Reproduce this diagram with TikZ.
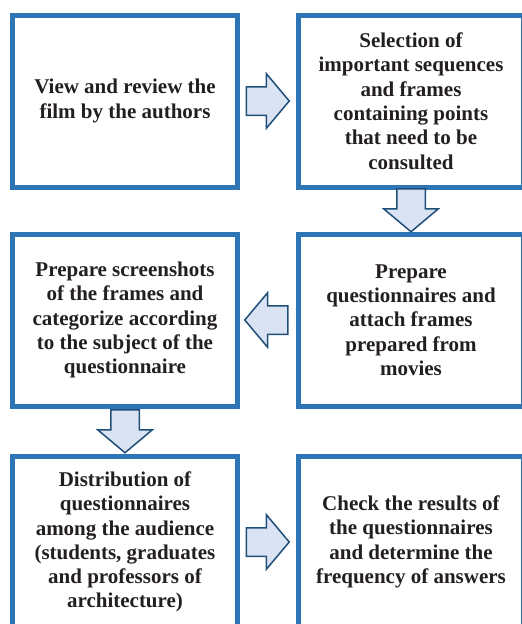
\documentclass[tikz,border=0pt]{standalone}
\usepackage{fontspec}
\setmainfont{Liberation Serif}
\usetikzlibrary{positioning,calc,shapes.arrows}
\definecolor{BoxClr}{RGB}{46,117,182}
\definecolor{ArrowFillClr}{RGB}{218,227,243}
\definecolor{ArrowLineClr}{RGB}{31,78,121}
\definecolor{TextClr}{RGB}{35,31,32}

\begin{document}
\begin{tikzpicture}[
  stepbox/.style={draw=BoxClr,line width=5pt,minimum width=225pt,minimum height=172pt,
    inner sep=0pt,outer sep=0pt,align=center,text=TextClr,
    font=\fontsize{21pt}{24.3pt}\selectfont\bfseries},
  blockarrow/.style={single arrow,draw=ArrowLineClr,fill=ArrowFillClr,line width=1.5pt,
    inner sep=0pt,text height=13.5pt,text depth=13.5pt,minimum height=43pt,
    single arrow head extend=13pt,single arrow tip angle=100,anchor=tail}]
\path[use as bounding box,clip] (0,0) rectangle (522pt,-624pt);

\node[stepbox] (b1) at (125pt,-101pt) {View and review the\\film by the authors};
\node[stepbox,right=61pt of b1] (b2) {Selection of\\important sequences\\and frames\\containing points\\that need to be\\consulted};
\node[stepbox,below=47pt of b2] (b3) {Prepare\\questionnaires and\\attach frames\\prepared from\\movies};
\node[stepbox,left=61pt of b3] (b4) {Prepare screenshots\\of the frames and\\categorize according\\to the subject of the\\questionnaire};
\node[stepbox,below=50pt of b4] (b5) {Distribution of\\questionnaires\\among the audience\\(students, graduates\\and professors of\\architecture)};
\node[stepbox,right=61pt of b5] (b6) {Check the results of\\the questionnaires\\and determine the\\frequency of answers};

% arrows between the steps
\node[blockarrow] (a12) at ([xshift=8pt]b1.east) {};
\node[blockarrow,rotate=-90] (a23) at ([yshift=-1pt]b2.south) {};
\node[blockarrow,rotate=180] (a34) at ([xshift=-10pt]b3.west) {};
\node[blockarrow,rotate=-90] (a45) at ([yshift=-3pt]b4.south) {};
\node[blockarrow] (a56) at ([xshift=8pt]b5.east) {};

\end{tikzpicture}
\end{document}
